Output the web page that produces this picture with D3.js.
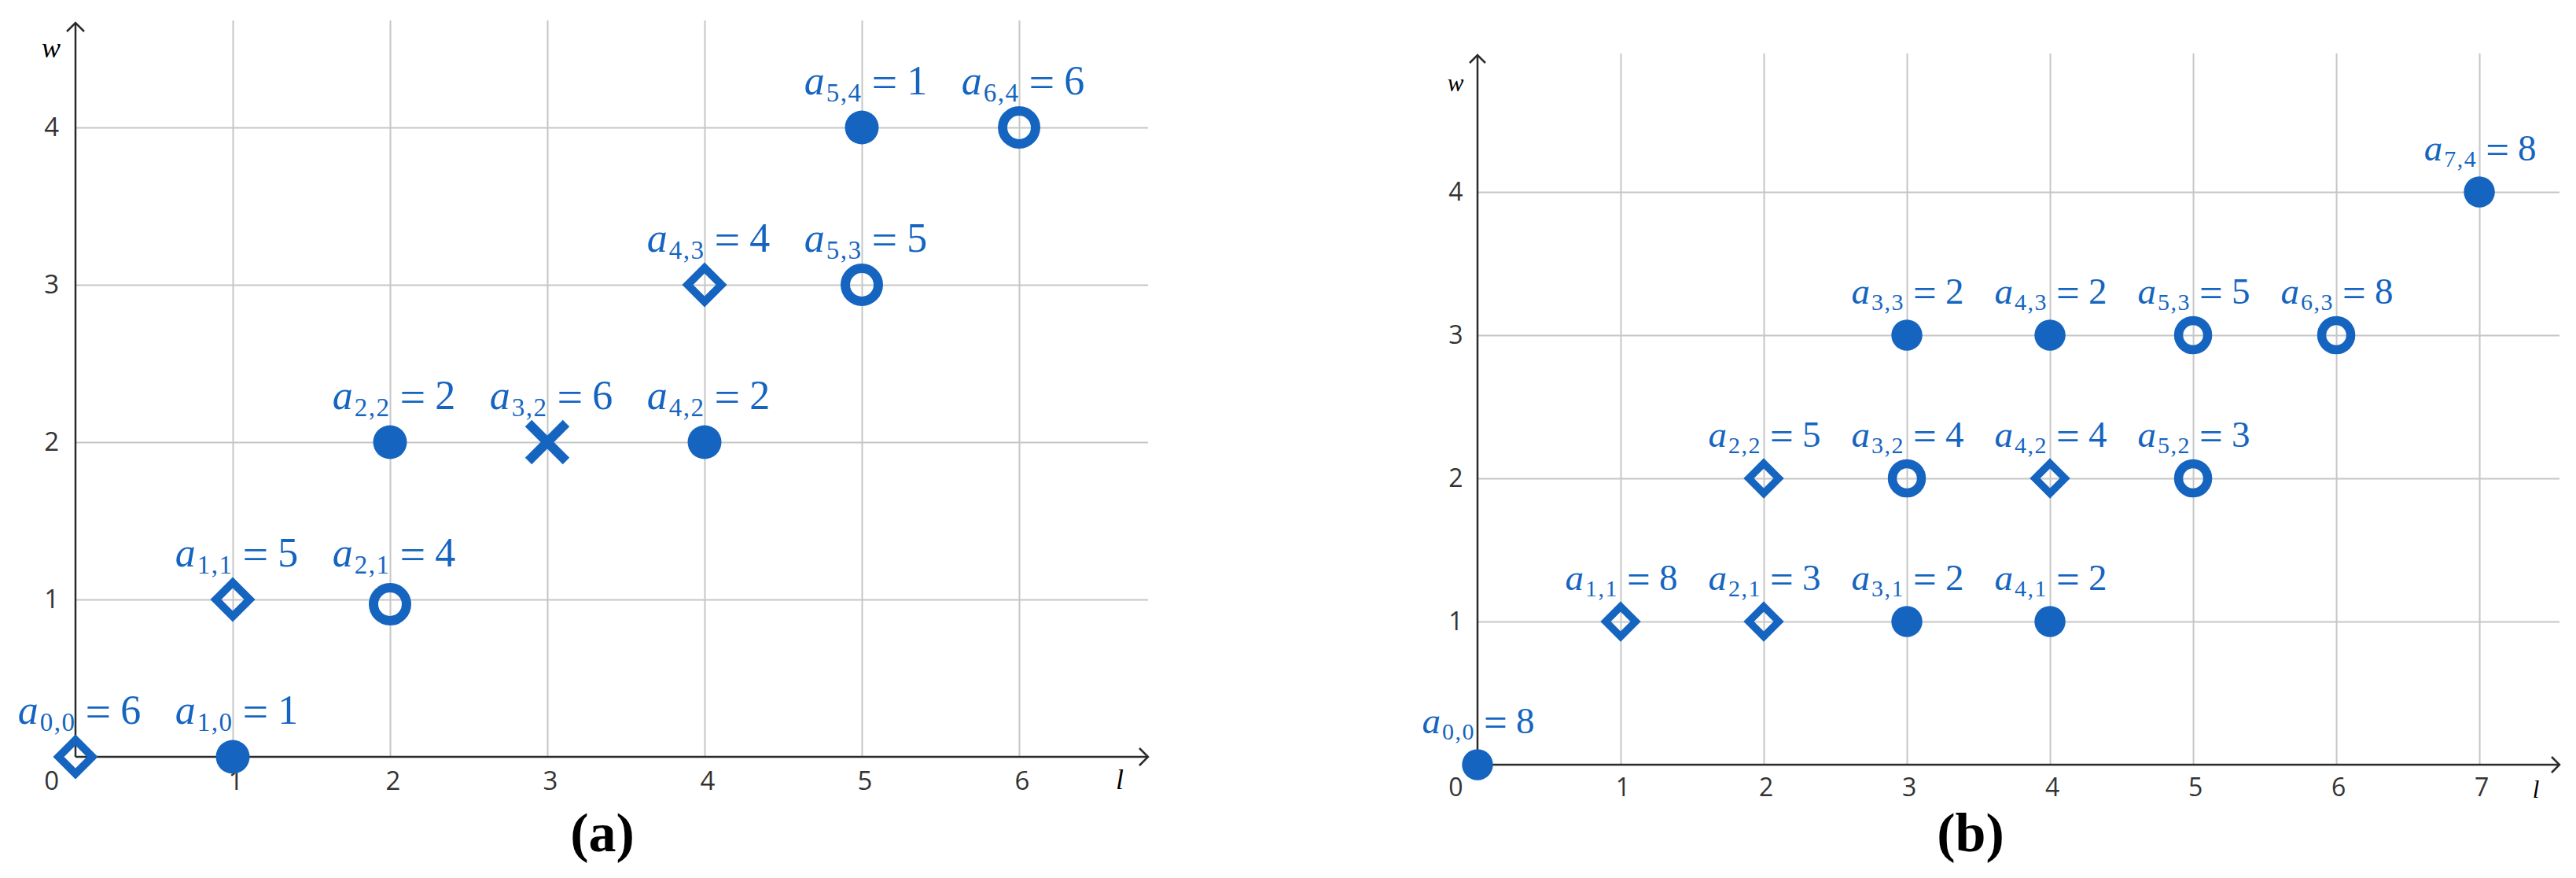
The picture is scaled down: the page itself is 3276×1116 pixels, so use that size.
<!DOCTYPE html>
<html>
<head>
<meta charset="utf-8">
<script src="https://cdn.jsdelivr.net/npm/d3@7"></script>
<style>
  body { margin: 0; background: #fff; }
  svg { display: block; background: #fff; }
</style>
</head>
<body>
<div id="chart"></div>
<script>
// ---- panel (a) data ----
var aL = [0, 1, 1, 2, 2, 3, 4, 4, 5, 5, 6];
var aW = [0, 0, 1, 0.97, 2, 2, 2, 3, 3, 4, 4];
var aVal = [6, 1, 5, 4, 2, 6, 2, 4, 5, 1, 6];
var aShape = ["diamond", "dot", "diamond", "ring", "dot", "cross", "dot", "diamond", "ring", "dot", "ring"];
var aLTicks = [1, 2, 3, 4, 5, 6];
var aWTicks = [1, 2, 3, 4];

// ---- panel (b) data ----
var bL = [0, 1, 2, 3, 4, 2, 3, 4, 5, 3, 4, 5, 6, 7];
var bW = [0, 1, 1, 1, 1, 2, 2, 2, 2, 3, 3, 3, 3, 4];
var bVal = [8, 8, 3, 2, 2, 5, 4, 4, 3, 2, 2, 5, 8, 8];
var bShape = ["dot", "diamond", "diamond", "dot", "dot", "diamond", "ring", "diamond", "ring", "dot", "dot", "ring", "ring", "dot"];
var bLTicks = [1, 2, 3, 4, 5, 6, 7];
var bWTicks = [1, 2, 3, 4];

var BLUE = "#1565c0";

var svg = d3.select("#chart").append("svg")
  .attr("width", 3276)
  .attr("height", 1116);

function drawPanel(p, ls, ws, vals, shapes, lTicks, wTicks, title) {
  var x = d3.scaleLinear().domain([0, p.lMax]).range([p.left, p.right]);
  var y = d3.scaleLinear().domain([0, p.wMax]).range([p.bottom, p.top]);
  var g = svg.append("g");

  // grid lines + tick labels
  var gx = g.append("g")
    .attr("transform", "translate(0," + y(0) + ")")
    .call(d3.axisBottom(x).tickValues(lTicks).tickSize(-(p.bottom - p.top))
      .tickPadding(p.xPad).tickFormat(d3.format("d")));
  var gy = g.append("g")
    .attr("transform", "translate(" + x(0) + ",0)")
    .call(d3.axisLeft(y).tickValues(wTicks).tickSize(-(p.right - p.left))
      .tickPadding(p.yPad).tickFormat(d3.format("d")));
  [gx, gy].forEach(function(a) {
    a.attr("font-size", null).attr("font-family", null);
    a.select(".domain").remove();
    a.selectAll(".tick line").attr("stroke", "#c6c6c6").attr("stroke-width", 2);
    a.selectAll(".tick text")
      .attr("fill", "#333")
      .style("font-family", "'Open Sans', sans-serif")
      .style("font-size", p.tickFont + "px");
  });
  gx.selectAll(".tick text").attr("dx", p.xShift);

  // origin label
  g.append("text")
    .attr("x", x(0) - p.yPad)
    .attr("y", y(0) + p.xPad)
    .attr("dy", "0.71em")
    .attr("text-anchor", "end")
    .attr("fill", "#333")
    .style("font-family", "'Open Sans', sans-serif")
    .style("font-size", p.tickFont + "px")
    .text("0");

  // axes with arrows
  var ax = g.append("g").attr("stroke", "#2b2b2b").attr("stroke-width", 2.5).attr("fill", "none");
  ax.append("line").attr("x1", x(0)).attr("x2", x(p.lMax)).attr("y1", y(0)).attr("y2", y(0));
  ax.append("line").attr("x1", x(0)).attr("x2", x(0)).attr("y1", y(0)).attr("y2", p.arrowTop);
  var h = p.arrow;
  ax.append("path").attr("d",
    "M" + (x(p.lMax) - h) + "," + (y(0) - h) + "L" + x(p.lMax) + "," + y(0) + "L" + (x(p.lMax) - h) + "," + (y(0) + h));
  ax.append("path").attr("d",
    "M" + (x(0) - h) + "," + (p.arrowTop + h) + "L" + x(0) + "," + p.arrowTop + "L" + (x(0) + h) + "," + (p.arrowTop + h));

  // axis names
  g.append("text")
    .attr("x", x(0) - p.wLabDx).attr("y", p.top + p.wLabDy)
    .attr("text-anchor", "middle")
    .style("font-family", "'Liberation Serif', serif").style("font-style", "italic")
    .style("font-size", p.nameFont + "px")
    .text("w");
  g.append("text")
    .attr("x", x(p.lMax) - p.lLabDx).attr("y", y(0) + p.lLabDy)
    .attr("text-anchor", "middle")
    .style("font-family", "'Liberation Serif', serif").style("font-style", "italic")
    .style("font-size", p.nameFont + "px")
    .text("l");

  var pts = ls.map(function(l, i) {
    return { l: l, w: ws[i], v: vals[i], s: shapes[i] };
  });

  // markers
  var mk = g.selectAll("g.mk").data(pts).enter().append("g")
    .attr("class", "mk")
    .attr("transform", function(d) { return "translate(" + x(d.l) + "," + y(d.w) + ")"; });
  mk.each(function(d) {
    var m = d3.select(this);
    if (d.s === "dot") {
      m.append("circle").attr("r", p.dotR).attr("fill", BLUE);
    } else if (d.s === "ring") {
      m.append("circle").attr("r", p.ringR).attr("fill", "none")
        .attr("stroke", BLUE).attr("stroke-width", p.ringW);
    } else if (d.s === "diamond") {
      var pa = d3.path(), r = p.diaR;
      pa.moveTo(0, -r); pa.lineTo(r, 0); pa.lineTo(0, r); pa.lineTo(-r, 0); pa.closePath();
      m.append("path").attr("d", pa.toString()).attr("fill", "none")
        .attr("stroke", BLUE).attr("stroke-width", p.diaW).attr("stroke-linejoin", "miter");
    } else {
      var pc = d3.path(), c = p.crossR;
      pc.moveTo(-c, -c); pc.lineTo(c, c); pc.moveTo(-c, c); pc.lineTo(c, -c);
      m.append("path").attr("d", pc.toString()).attr("fill", "none")
        .attr("stroke", BLUE).attr("stroke-width", p.crossW);
    }
  });

  // value labels  a_{l,w} = v
  var lab = g.selectAll("text.lab").data(pts).enter().append("text")
    .attr("class", "lab")
    .attr("x", function(d) { return x(d.l) + p.labDx; })
    .attr("y", function(d) { return y(Math.round(d.w)) - p.labDy; })
    .attr("text-anchor", "middle")
    .attr("fill", BLUE)
    .style("font-family", "'Liberation Serif', serif")
    .style("font-size", p.labFont + "px");
  lab.append("tspan").style("font-style", "italic").text("a");
  lab.append("tspan").attr("dx", 2).attr("dy", p.subDy)
    .style("font-size", p.subFont + "px").style("letter-spacing", "1.5px")
    .text(function(d) { return d.l + "," + Math.round(d.w); });
  lab.append("tspan").attr("dx", p.eqGap).attr("dy", -p.subDy + p.eqDy)
    .style("font-size", p.eqFont + "px").text("=");
  lab.append("tspan").attr("dx", p.eqGap).attr("dy", -p.eqDy)
    .text(function(d) { return d.v; });

  // panel title
  g.append("text")
    .attr("x", p.titleX).attr("y", p.titleY)
    .attr("text-anchor", "middle")
    .style("font-family", "'Liberation Serif', serif").style("font-weight", "bold")
    .style("font-size", "70px")
    .text(title);
}

drawPanel({
  left: 96, right: 1460, bottom: 962, top: 26, lMax: 6.82, wMax: 4.68,
  arrowTop: 29, arrow: 11,
  xPad: 19, yPad: 21, xShift: 3.5, tickFont: 33,
  wLabDx: 31, wLabDy: 47, lLabDx: 36, lLabDy: 41, nameFont: 36,
  dotR: 21.5, ringR: 21, ringW: 12, diaR: 21.5, diaW: 10, crossR: 24, crossW: 12,
  labFont: 52, subFont: 33, eqFont: 58, labDx: 5, labDy: 42, subDy: 9, eqDy: 4, eqGap: 12,
  titleX: 766, titleY: 1082
}, aL, aW, aVal, aShape, aLTicks, aWTicks, "(a)");

drawPanel({
  left: 1879, right: 3255, bottom: 972, top: 68, lMax: 7.56, wMax: 4.967,
  arrowTop: 70, arrow: 10,
  xPad: 17, yPad: 18.5, xShift: 2.5, tickFont: 32,
  wLabDx: 28, wLabDy: 48, lLabDx: 30, lLabDy: 42, nameFont: 31,
  dotR: 19.75, ringR: 18.5, ringW: 11.5, diaR: 19, diaW: 9.5, crossR: 22, crossW: 11,
  labFont: 47, subFont: 30, eqFont: 53, labDx: 1, labDy: 40, subDy: 8, eqDy: 4, eqGap: 11,
  titleX: 2506, titleY: 1082
}, bL, bW, bVal, bShape, bLTicks, bWTicks, "(b)");
</script>
</body>
</html>
